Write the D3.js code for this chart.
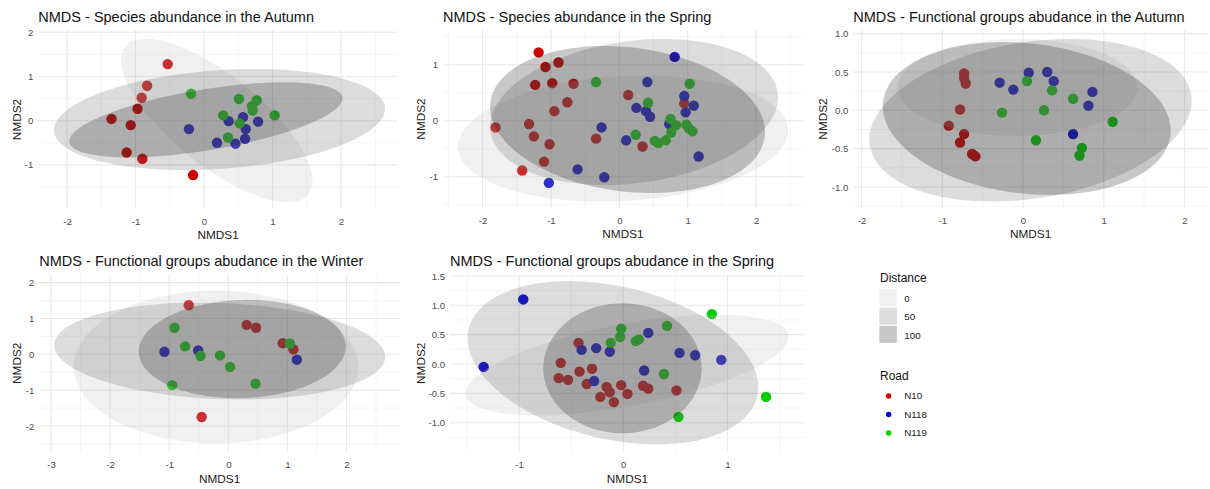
<!DOCTYPE html>
<html>
<head>
<meta charset="utf-8">
<script src="https://cdn.jsdelivr.net/npm/d3@7"></script>
<style>
  html, body { margin: 0; padding: 0; background: #fff; }
  svg { display: block; font-family: "Liberation Sans", Arial, sans-serif; }
</style>
</head>
<body>
<svg id="chart" width="1210" height="489"></svg>
<script>
// ---- NMDS scores by road (NMDS1, NMDS2) ----
const autumnSpeciesN10 = [[-0.53,1.28],[-0.83,0.79],[-0.91,0.52],[-0.97,0.27],[-1.35,0.04],[-1.07,-0.10],[-1.13,-0.72],[-0.90,-0.86],[-0.16,-1.23]];
const autumnSpeciesN118 = [[-0.22,-0.19],[0.36,-0.01],[0.57,0.08],[0.79,-0.02],[0.61,-0.19],[0.60,-0.41],[0.19,-0.50],[0.46,-0.52]];
const autumnSpeciesN119 = [[-0.19,0.61],[0.51,0.49],[0.77,0.46],[0.70,0.33],[0.71,0.23],[0.28,0.12],[1.03,0.12],[0.52,-0.06],[0.35,-0.38]];

const springSpeciesN10 = [[-1.18,1.22],[-1.08,0.96],[-0.89,1.04],[-1.23,0.64],[-0.98,0.67],[-0.67,0.66],[-0.76,0.33],[-0.95,0.17],[-1.32,-0.06],[-1.81,-0.12],[-1.25,-0.28],[-1.02,-0.42],[-1.10,-0.73],[-1.42,-0.89],[-0.34,-0.32],[0.13,0.46],[0.34,-0.46],[0.95,0.31]];
const springSpeciesN118 = [[0.81,1.14],[0.41,0.69],[0.95,0.44],[1.09,0.27],[0.97,0.15],[0.25,0.23],[0.39,0.17],[0.45,0.07],[-0.26,-0.12],[0.10,-0.35],[1.16,-0.64],[-0.61,-0.87],[-0.22,-1.01],[-1.03,-1.11],[0.73,-0.06]];
const springSpeciesN119 = [[-0.34,0.69],[1.03,0.66],[0.42,0.32],[0.75,0.03],[0.83,-0.08],[0.98,-0.07],[1.02,-0.14],[1.07,-0.19],[0.76,-0.21],[0.24,-0.25],[0.68,-0.35],[0.52,-0.36],[0.57,-0.40]];

const autumnFunctionalN10 = [[-0.73,0.48],[-0.73,0.42],[-0.71,0.35],[-0.78,0.01],[-0.92,-0.20],[-0.73,-0.31],[-0.78,-0.42],[-0.63,-0.57],[-0.59,-0.60]];
const autumnFunctionalN118 = [[-0.29,0.36],[-0.12,0.27],[0.07,0.49],[0.30,0.50],[0.38,0.38],[0.86,0.24],[0.81,0.06],[0.62,-0.31]];
const autumnFunctionalN119 = [[0.05,0.38],[0.36,0.26],[0.62,0.15],[-0.26,-0.03],[0.26,0.00],[1.11,-0.15],[0.16,-0.39],[0.73,-0.49],[0.70,-0.59]];

const winterFunctionalN10 = [[-0.67,1.37],[0.31,0.82],[0.47,0.74],[0.92,0.31],[1.10,0.14],[-0.45,-1.75]];
const winterFunctionalN118 = [[-1.08,0.07],[-0.51,0.11],[1.16,-0.15]];
const winterFunctionalN119 = [[-0.91,0.74],[-0.73,0.22],[-0.47,-0.04],[-0.14,-0.03],[0.03,-0.35],[1.04,0.30],[-0.95,-0.86],[0.46,-0.82]];

const springFunctionalN10 = [[-0.43,0.36],[-0.60,0.02],[-0.62,-0.24],[-0.53,-0.27],[-0.42,-0.13],[-0.30,-0.08],[-0.35,-0.34],[-0.16,-0.39],[-0.13,-0.48],[-0.22,-0.56],[-0.09,-0.65],[-0.02,-0.36],[0.04,-0.51],[0.19,-0.37],[0.24,-0.42],[0.51,-0.45]];
const springFunctionalN118 = [[-0.96,1.10],[-1.34,-0.05],[-0.40,0.24],[-0.26,0.27],[-0.13,0.21],[0.24,0.53],[0.54,0.19],[0.69,0.15],[0.94,0.07],[0.20,-0.11],[-0.28,-0.29]];
const springFunctionalN119 = [[0.85,0.85],[0.42,0.65],[-0.02,0.60],[-0.03,0.46],[-0.12,0.36],[0.12,0.39],[0.15,0.42],[0.39,-0.17],[1.37,-0.56],[0.53,-0.90]];

// ---- 95% ellipses per distance: centre, half extents and correlation ----
const autumnSpeciesEllipses = [
  ["0", 0.185, 0.005, 1.397, 1.851, -0.74],
  ["50", 0.226, 0.027, 2.416, 1.143, 0.21],
  ["100", 0.027, 0.020, 1.993, 0.849, 0.57]
];
const springSpeciesEllipses = [
  ["0", 0.054, -0.319, 2.412, 1.125, 0.13],
  ["50", 0.216, 0.155, 2.105, 1.304, 0.20],
  ["100", 0.120, 0.021, 2.010, 1.3125, -0.17]
];
const autumnFunctionalEllipses = [
  ["0", -0.068, 0.297, 1.486, 0.632, 0.0],
  ["50", 0.093, -0.130, 1.996, 1.060, 0.24],
  ["100", 0.046, -0.107, 1.783, 0.997, -0.16]
];
const winterFunctionalEllipses = [
  ["0", -0.210, -0.354, 2.406, 2.130, 0.0],
  ["50", -0.146, 0.092, 2.800, 1.350, -0.12],
  ["100", 0.235, 0.148, 1.751, 1.372, 0.05]
];
const springFunctionalEllipses = [
  ["0", 0.036, -0.017, 1.548, 0.857, 0.56],
  ["50", -0.099, 0.022, 1.395, 1.391, -0.30],
  ["100", -0.008, -0.073, 0.760, 1.107, 0.0]
];

// ---- categories and tick labels ----
const roads = ["N10", "N118", "N119"];
const distances = ["0", "50", "100"];
const titles = [
  "NMDS - Species abundance in the Autumn",
  "NMDS - Species abundance in the Spring",
  "NMDS - Functional groups abudance in the Autumn",
  "NMDS - Functional groups abudance in the Winter",
  "NMDS - Functional groups abudance in the Spring"
];
const xTicksP1 = [-2, -1, 0, 1, 2];
const yTicksP1 = [-1, 0, 1, 2];
const xTicksP2 = [-2, -1, 0, 1, 2];
const yTicksP2 = [-1, 0, 1];
const xTicksP3 = [-2, -1, 0, 1, 2];
const yTicksP3 = [-1.0, -0.5, 0.0, 0.5, 1.0];
const xTicksP4 = [-3, -2, -1, 0, 1, 2];
const yTicksP4 = [-2, -1, 0, 1, 2];
const xTicksP5 = [-1, 0, 1];
const yTicksP5 = [-1.0, -0.5, 0.0, 0.5, 1.0, 1.5];

// ---- styling ----
const roadColor = d3.scaleOrdinal().domain(roads).range(["#cd0000", "#0000cd", "#00cd00"]);
const distFill = d3.scaleOrdinal().domain(distances).range(["#c0c0c0", "#6d6d6d", "#1a1a1a"]);
const FILL_ALPHA = 0.24;
const FONT = "'Liberation Sans', Arial, sans-serif";

// ---- panel layout (pixel boxes and visible data ranges) ----
const panels = [
  { title: titles[0], left: 38.3, right: 398, top: 30, bottom: 209, xd: [-2.419, 2.832], yd: [-1.998, 2.052],
    xt: xTicksP1, yt: yTicksP1, yfmt: d3.format("d"), ytx: 20.5,
    pts: [autumnSpeciesN10, autumnSpeciesN118, autumnSpeciesN119], ell: autumnSpeciesEllipses },
  { title: titles[1], left: 443, right: 803, top: 30, bottom: 208, xd: [-2.578, 2.686], yd: [-1.559, 1.620],
    xt: xTicksP2, yt: yTicksP2, yfmt: d3.format("d"), ytx: 424.5,
    pts: [springSpeciesN10, springSpeciesN118, springSpeciesN119], ell: springSpeciesEllipses },
  { title: titles[2], left: 853.3, right: 1208, top: 30, bottom: 208, xd: [-2.102, 2.291], yd: [-1.274, 1.047],
    xt: xTicksP3, yt: yTicksP3, yfmt: d3.format(".1f"), ytx: 827,
    pts: [autumnFunctionalN10, autumnFunctionalN118, autumnFunctionalN119], ell: autumnFunctionalEllipses },
  { title: titles[3], left: 39.3, right: 400, top: 274.3, bottom: 452.3, xd: [-3.198, 2.905], yd: [-2.734, 2.232],
    xt: xTicksP4, yt: yTicksP4, yfmt: d3.format("d"), ytx: 21,
    pts: [winterFunctionalN10, winterFunctionalN118, winterFunctionalN119], ell: winterFunctionalEllipses },
  { title: titles[4], left: 450, right: 805, top: 274.3, bottom: 452.3, xd: [-1.663, 1.744], yd: [-1.504, 1.528],
    xt: xTicksP5, yt: yTicksP5, yfmt: d3.format(".1f"), ytx: 424.5,
    pts: [springFunctionalN10, springFunctionalN118, springFunctionalN119], ell: springFunctionalEllipses }
];

const svg = d3.select("#chart");
svg.append("rect").attr("width", 1210).attr("height", 489).attr("fill", "#fff");

// minor breaks halfway between majors, extended across the visible range
function minorBreaks(major, dom) {
  const step = major[1] - major[0];
  const out = [];
  for (let v = major[0] - step / 2; v <= dom[1]; v += step) {
    if (v >= dom[0] && v <= dom[1]) out.push(v);
  }
  return out;
}

// correlation ellipse outline in data space
function ellipsePath(e, n = 120) {
  const [, cx, cy, rx, ry, rho] = e;
  const s = Math.sqrt(1 - rho * rho);
  return d3.range(n).map(i => {
    const t = (i / n) * 2 * Math.PI;
    return [cx + rx * Math.cos(t), cy + ry * (rho * Math.cos(t) + s * Math.sin(t))];
  });
}

panels.forEach((p, i) => {
  const x = d3.scaleLinear().domain(p.xd).range([p.left, p.right]);
  const y = d3.scaleLinear().domain(p.yd).range([p.bottom, p.top]);
  const g = svg.append("g");

  const clipId = "clip" + i;
  g.append("clipPath").attr("id", clipId)
    .append("rect").attr("x", p.left).attr("y", p.top)
    .attr("width", p.right - p.left).attr("height", p.bottom - p.top);

  // grid
  const grid = g.append("g");
  grid.selectAll(".mx").data(minorBreaks(p.xt, p.xd)).join("line")
    .attr("x1", d => x(d)).attr("x2", d => x(d)).attr("y1", p.top).attr("y2", p.bottom)
    .attr("stroke", "#f2f2f2").attr("stroke-width", 0.8);
  grid.selectAll(".my").data(minorBreaks(p.yt, p.yd)).join("line")
    .attr("y1", d => y(d)).attr("y2", d => y(d)).attr("x1", p.left).attr("x2", p.right)
    .attr("stroke", "#f2f2f2").attr("stroke-width", 0.8);
  grid.selectAll(".Mx").data(p.xt).join("line")
    .attr("x1", d => x(d)).attr("x2", d => x(d)).attr("y1", p.top).attr("y2", p.bottom)
    .attr("stroke", "#e8e8e8").attr("stroke-width", 1.1);
  grid.selectAll(".My").data(p.yt).join("line")
    .attr("y1", d => y(d)).attr("y2", d => y(d)).attr("x1", p.left).attr("x2", p.right)
    .attr("stroke", "#e8e8e8").attr("stroke-width", 1.1);

  // points by road
  const pg = g.append("g");
  roads.forEach((r, k) => {
    pg.selectAll(null).data(p.pts[k]).join("circle")
      .attr("cx", d => x(d[0])).attr("cy", d => y(d[1])).attr("r", 5.2)
      .attr("fill", roadColor(r));
  });

  // distance ellipses drawn over the points
  const line = d3.line().x(d => x(d[0])).y(d => y(d[1])).curve(d3.curveLinearClosed);
  g.append("g").attr("clip-path", `url(#${clipId})`)
    .selectAll("path").data(p.ell).join("path")
    .attr("d", e => line(ellipsePath(e)))
    .attr("fill", e => distFill(e[0])).attr("fill-opacity", FILL_ALPHA);

  // axes
  const xa = g.append("g").attr("transform", `translate(0,${p.bottom})`)
    .call(d3.axisBottom(x).tickValues(p.xt).tickSize(0).tickPadding(9).tickFormat(d3.format("d")));
  const ya = g.append("g").attr("transform", `translate(${p.left},0)`)
    .call(d3.axisLeft(y).tickValues(p.yt).tickSize(0).tickPadding(5).tickFormat(p.yfmt));
  [xa, ya].forEach(a => {
    a.select(".domain").remove();
    a.selectAll("text").attr("fill", "#4d4d4d").style("font-size", "9.6px").style("font-family", FONT);
  });
  // d3 uses a real minus sign; keep ASCII hyphen labels
  xa.selectAll("text").text(d => String(d3.format("d")(d)).replace("\u2212", "-"));
  ya.selectAll("text").text(d => String(p.yfmt(d)).replace("\u2212", "-"));

  // titles
  g.append("text").attr("x", p.left).attr("y", p.top - 8.3)
    .attr("fill", "#111").style("font-size", "14.5px").style("font-family", FONT)
    .text(p.title);
  g.append("text").attr("x", (p.left + p.right) / 2).attr("y", p.bottom + 30.3)
    .attr("text-anchor", "middle").attr("fill", "#1a1a1a")
    .style("font-size", "11.8px").style("font-family", FONT).text("NMDS1");
  g.append("text")
    .attr("transform", `translate(${p.ytx},${(p.top + p.bottom) / 2}) rotate(-90)`)
    .attr("text-anchor", "middle").attr("fill", "#1a1a1a")
    .style("font-size", "11.8px").style("font-family", FONT).text("NMDS2");
});

// ---- legends ----
const lg = svg.append("g").style("font-family", FONT);
lg.append("text").attr("x", 880).attr("y", 282).style("font-size", "12px").attr("fill", "#111").text("Distance");
distances.forEach((d, k) => {
  const top = 289.3 + k * 18.3;
  lg.append("rect").attr("x", 879.3).attr("y", top).attr("width", 17.6).attr("height", 17)
    .attr("fill", distFill(d)).attr("fill-opacity", FILL_ALPHA);
  lg.append("text").attr("x", 904.3).attr("y", top + 12.8).style("font-size", "9.8px")
    .attr("fill", "#1a1a1a").text(d);
});
lg.append("text").attr("x", 880).attr("y", 380).style("font-size", "12px").attr("fill", "#111").text("Road");
roads.forEach((r, k) => {
  const cy = 396 + k * 18.5;
  lg.append("circle").attr("cx", 888.7).attr("cy", cy).attr("r", 2.7).attr("fill", roadColor(r));
  lg.append("text").attr("x", 904.3).attr("y", cy + 3.4).style("font-size", "9.8px")
    .attr("fill", "#1a1a1a").text(r);
});
</script>
</body>
</html>
